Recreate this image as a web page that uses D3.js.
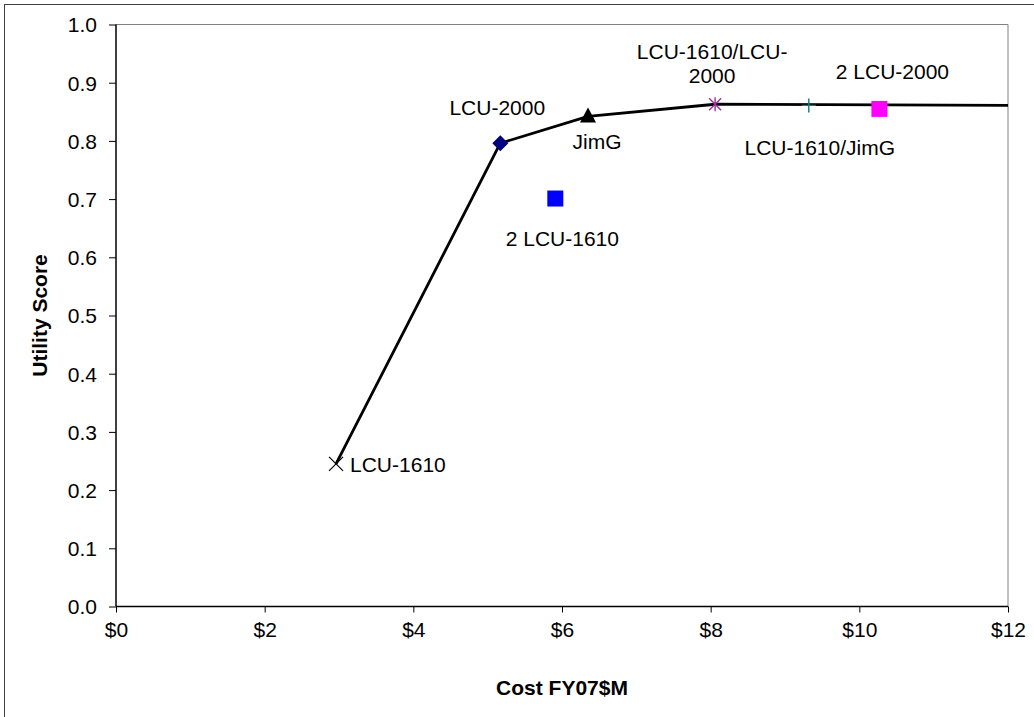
<!DOCTYPE html>
<html>
<head>
<meta charset="utf-8">
<script src="https://cdn.jsdelivr.net/npm/d3@7"></script>
<style>
  html, body { margin: 0; padding: 0; background: #fff; }
  svg { display: block; font-family: "Liberation Sans", Arial, sans-serif; }
</style>
</head>
<body>
<svg id="chart" width="1034" height="717"></svg>
<script>
// ---- Data ----
const pointNames = ["LCU-1610", "LCU-2000", "JimG", "2 LCU-1610", "LCU-1610/LCU-2000", "LCU-1610/JimG", "2 LCU-2000"];
const pointCost  = [2.96, 5.17, 6.35, 5.91, 8.06, 9.32, 10.27];
const pointScore = [0.245, 0.796, 0.842, 0.701, 0.863, 0.861, 0.855];
const frontierCost  = [2.96, 5.17, 6.35, 8.06, 12];
const frontierScore = [0.245, 0.796, 0.842, 0.863, 0.861];
const xTicks = [0, 2, 4, 6, 8, 10, 12];
const yTicks = [0, 0.1, 0.2, 0.3, 0.4, 0.5, 0.6, 0.7, 0.8, 0.9, 1.0];

// ---- Styling (not data) ----
const markerStyle = {
  "LCU-1610":          {shape: "x",        color: "#000000"},
  "LCU-2000":          {shape: "diamond",  color: "#000080"},
  "JimG":              {shape: "triangle", color: "#000000"},
  "2 LCU-1610":        {shape: "square",   color: "#0000FF"},
  "LCU-1610/LCU-2000": {shape: "star",     color: "#993399"},
  "LCU-1610/JimG":     {shape: "plus",     color: "#008080"},
  "2 LCU-2000":        {shape: "square",   color: "#FF00FF"}
};
const labelStyle = {
  "LCU-1610":          {lines: ["LCU-1610"], dx: 14, dy: 0, anchor: "start"},
  "LCU-2000":          {lines: ["LCU-2000"], dx: -3, dy: -36, anchor: "middle"},
  "JimG":              {lines: ["JimG"], dx: 9, dy: 25, anchor: "middle"},
  "2 LCU-1610":        {lines: ["2 LCU-1610"], dx: 7, dy: 39, anchor: "middle"},
  "LCU-1610/LCU-2000": {lines: ["LCU-1610/LCU-", "2000"], dx: -3, dy: -53, anchor: "middle"},
  "LCU-1610/JimG":     {lines: ["LCU-1610/JimG"], dx: 11, dy: 42, anchor: "middle"},
  "2 LCU-2000":        {lines: ["2 LCU-2000"], dx: 13, dy: -38, anchor: "middle"}
};

const svg = d3.select("#chart");
const W = 1034, H = 717;
const plot = {left: 116, right: 1008, top: 24.5, bottom: 606.5};

// outer frame
svg.append("rect").attr("x", 4.5).attr("y", 4.5).attr("width", 1040).attr("height", 720)
  .attr("fill", "#fff").attr("stroke", "#404040").attr("stroke-width", 1);

const x = d3.scaleLinear().domain([0, 12]).range([plot.left, plot.right]);
const y = d3.scaleLinear().domain([0, 1]).range([plot.bottom, plot.top]);

// plot area border (top & right, gray)
svg.append("path")
  .attr("d", `M${plot.left},${plot.top}H${plot.right}V${plot.bottom}`)
  .attr("fill", "none").attr("stroke", "#808080").attr("stroke-width", 1);

const fontSize = 21;

// axes
const xAxis = d3.axisBottom(x).tickValues(xTicks).tickFormat(d => "$" + d).tickSize(6).tickPadding(10);
const yAxis = d3.axisLeft(y).tickValues(yTicks).tickFormat(d3.format(".1f")).tickSize(7).tickPadding(12);

const gx = svg.append("g").attr("transform", `translate(0,${plot.bottom})`).call(xAxis);
const gy = svg.append("g").attr("transform", `translate(${plot.left},0)`).call(yAxis);
[gx, gy].forEach(g => {
  g.select(".domain").attr("stroke", "#000").attr("stroke-width", 1.5);
  g.selectAll(".tick line").attr("stroke", "#000").attr("stroke-width", 1);
  g.selectAll("text").attr("fill", "#000").style("font-size", fontSize + "px")
    .style("font-family", "'Liberation Sans', Arial, sans-serif");
});
gx.select(".domain").attr("d", `M${plot.left},0H${plot.right}`);
gy.select(".domain").attr("d", `M0,${plot.bottom}V${plot.top}`);
gy.selectAll(".tick text").attr("dy", "0.35em");

// axis titles
svg.append("text").attr("x", x(6)).attr("y", 695).attr("text-anchor", "middle")
  .style("font-size", fontSize + "px").style("font-weight", "bold").text("Cost FY07$M");
svg.append("text").attr("transform", `translate(47,${y(0.5)}) rotate(-90)`).attr("text-anchor", "middle")
  .style("font-size", fontSize + "px").style("font-weight", "bold").text("Utility Score");

// frontier line
const frontier = frontierCost.map((c, i) => [c, frontierScore[i]]);
svg.append("path").datum(frontier)
  .attr("d", d3.line().x(d => x(d[0])).y(d => y(d[1])))
  .attr("fill", "none").attr("stroke", "#000").attr("stroke-width", 2.8).attr("stroke-linejoin", "round");

// markers
const pts = pointNames.map((n, i) => ({name: n, cost: pointCost[i], score: pointScore[i]}));
const mg = svg.append("g");
pts.forEach(p => {
  const cx = x(p.cost), cy = y(p.score);
  const st = markerStyle[p.name];
  const g = mg.append("g").attr("transform", `translate(${cx},${cy})`);
  if (st.shape === "x") {
    g.append("path").attr("d", "M-7,-7L7,7M-7,7L7,-7").attr("stroke", st.color).attr("stroke-width", 1.2).attr("fill", "none");
  } else if (st.shape === "diamond") {
    g.append("path").attr("d", "M0,-8L8,0L0,8L-8,0Z").attr("fill", st.color);
  } else if (st.shape === "triangle") {
    g.append("path").attr("d", "M0,-9L8,6L-8,6Z").attr("fill", st.color);
  } else if (st.shape === "square") {
    g.append("rect").attr("x", -8).attr("y", -8).attr("width", 16).attr("height", 16).attr("fill", st.color);
  } else if (st.shape === "star") {
    g.append("path").attr("d", "M0,-7V7M-6,-6L6,6M-6,6L6,-6").attr("stroke", st.color).attr("stroke-width", 1.4).attr("fill", "none");
  } else if (st.shape === "plus") {
    g.append("path").attr("d", "M0,-7V7M-7,0H7").attr("stroke", st.color).attr("stroke-width", 1.4).attr("fill", "none");
  }
});

// labels
const lg = svg.append("g").style("font-size", fontSize + "px");
pts.forEach(p => {
  const ls = labelStyle[p.name];
  const t = lg.append("text")
    .attr("x", x(p.cost) + ls.dx)
    .attr("y", y(p.score) + ls.dy)
    .attr("text-anchor", ls.anchor)
    .attr("dominant-baseline", "central")
    .attr("fill", "#000");
  ls.lines.forEach((line, i) => {
    t.append("tspan").attr("x", x(p.cost) + ls.dx).attr("dy", i === 0 ? 0 : 24).text(line);
  });
});
</script>
</body>
</html>
